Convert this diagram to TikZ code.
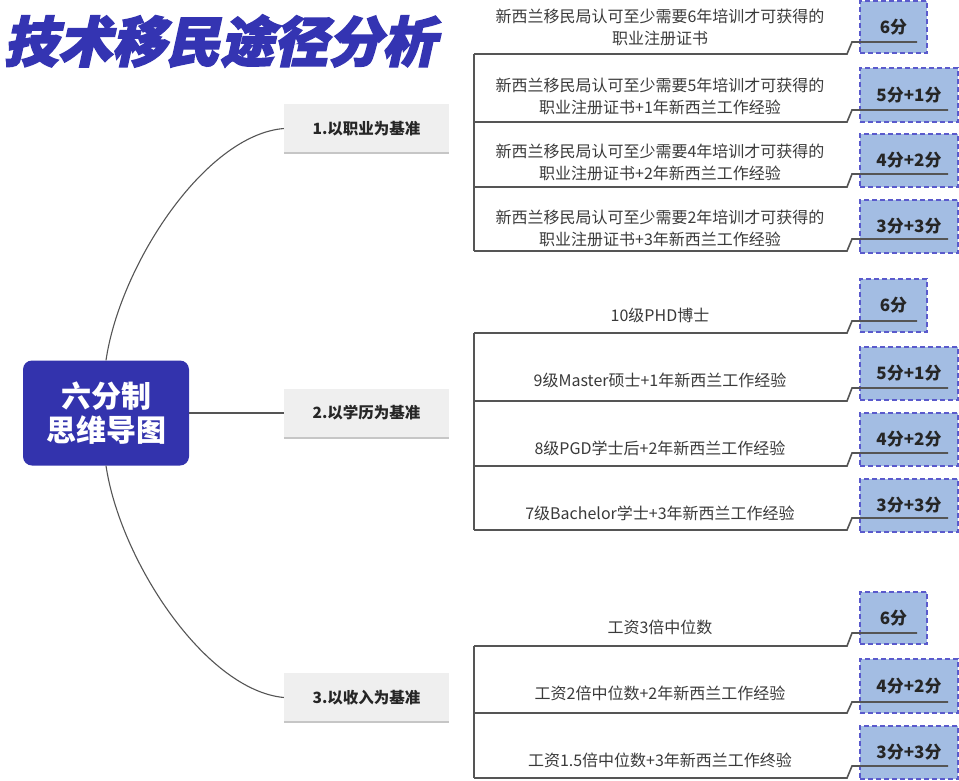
\documentclass[tikz,border=0pt]{standalone}
\usepackage{fontspec}
\setmainfont{Noto Sans CJK SC}
\newfontfamily\titlefont{Noto Sans CJK SC}[BoldFeatures={FakeSlant=0.22,FakeBold=3}]
\definecolor{titleblue}{HTML}{3434B2}
\definecolor{centerblue}{HTML}{3333AD}
\definecolor{scorefill}{HTML}{A3BDE3}
\definecolor{scoredraw}{HTML}{5A5ACC}
\definecolor{branchfill}{HTML}{EFEFEF}
\definecolor{branchshadow}{HTML}{C6C6C6}
\definecolor{linegray}{HTML}{555555}
\definecolor{textgray}{HTML}{3A3A3A}
\tikzset{
  centerbox/.style={draw=none, fill=centerblue, rounded corners=9pt, minimum width=166pt, minimum height=105pt,
    text=white, align=center, font=\fontsize{30}{34}\selectfont\bfseries, inner sep=0pt},
  branchbox/.style={fill=branchfill, draw=none, minimum width=165pt, minimum height=49pt, inner sep=0pt,
    text=black!85, font=\fontsize{15.5}{18}\selectfont\bfseries},
  branchshade/.style={draw=branchshadow, line width=2pt},
  leaftext/.style={text=textgray, align=center, font=\fontsize{16}{22}\selectfont, inner sep=0pt},
  scorebox/.style={draw=scoredraw, dash pattern=on 5pt off 3pt, line width=1.3pt, fill=scorefill,
    inner sep=0pt, text=black!85, font=\fontsize{17}{20}\selectfont\bfseries},
  leafline/.style={draw=linegray, line width=1.6pt},
  curveline/.style={draw=linegray, line width=1.1pt},
  midline/.style={draw=linegray, line width=1.6pt}
}
% #1 name, #2 underline y, #3 line-in-box y, #4 text y, #5 text, #6 box top, #7 box bottom, #8 box right, #9 score
\newcommand\leafrow[9]{%
  \node[leaftext] (#1t) at (660,#4) {#5};
  \node[scorebox, minimum width={(#8-860)*1pt}, minimum height={(#7-#6)*1pt}] (#1s) at ({(860+#8)/2},{(#6+#7)/2}) {#9};
  \coordinate (#1a) at (474,#2);
  \coordinate (#1b) at (847,#2);
  \coordinate (#1c) at (852,#3);
  \coordinate (#1d) at ({#8-10},#3);
  \draw[leafline] (#1a) -- (#1b) -- (#1c) -- (#1d);
}
\begin{document}
\begin{tikzpicture}[x=1pt,y=-1pt]
\useasboundingbox (0,0) rectangle (959,780);
\fill[white] (0,0) rectangle (959,780);

% title
\node[text=titleblue, font=\titlefont\fontsize{54}{60}\selectfont\bfseries, inner sep=0pt] (title) at (220,41) {技术移民途径分析};

% center node
\node[centerbox] (c) at (106,413) {六分制\\思维导图};

% branch nodes
\node[branchbox] (b1) at (366.5,128.5) {1.以职业为基准};
\node[branchbox] (b2) at (366.5,413) {2.以学历为基准};
\node[branchbox] (b3) at (366.5,697.5) {3.以收入为基准};
\draw[branchshade] (b1.south west) -- (b1.south east);
\draw[branchshade] (b2.south west) -- (b2.south east);
\draw[branchshade] (b3.south west) -- (b3.south east);

% connectors
\draw[curveline] (c.north) .. controls (120,265) and (205,135) .. (b1.west);
\draw[midline] (c.east) -- (b2.west);
\draw[curveline] (c.south) .. controls (120,560) and (205,690) .. (b3.west);

% branch 1 leaves
\leafrow{p1}{54}{42}{27}{新西兰移民局认可至少需要6年培训才可获得的\\职业注册证书}{1}{53}{927}{6分}
\leafrow{p2}{122}{110}{96.5}{新西兰移民局认可至少需要5年培训才可获得的\\职业注册证书+1年新西兰工作经验}{68}{122}{958}{5分+1分}
\leafrow{p3}{187}{174}{162}{新西兰移民局认可至少需要4年培训才可获得的\\职业注册证书+2年新西兰工作经验}{134}{187}{958}{4分+2分}
\leafrow{p4}{251}{239}{228}{新西兰移民局认可至少需要2年培训才可获得的\\职业注册证书+3年新西兰工作经验}{200}{253}{958}{3分+3分}
\draw[leafline] (p1a) -- (p4a);

% branch 2 leaves
\leafrow{e1}{333}{321}{315}{10级PHD博士}{279}{332}{927}{6分}
\leafrow{e2}{401}{388}{380}{9级Master硕士+1年新西兰工作经验}{347}{400}{958}{5分+1分}
\leafrow{e3}{466}{453}{448}{8级PGD学士后+2年新西兰工作经验}{413}{466}{958}{4分+2分}
\leafrow{e4}{530}{518}{513}{7级Bachelor学士+3年新西兰工作经验}{479}{532}{958}{3分+3分}
\draw[leafline] (e1a) -- (e4a);

% branch 3 leaves
\leafrow{s1}{646}{633}{627}{工资3倍中位数}{592}{644}{927}{6分}
\leafrow{s2}{713}{702}{693}{工资2倍中位数+2年新西兰工作经验}{659}{713}{958}{4分+2分}
\leafrow{s3}{778}{766}{760}{工资1.5倍中位数+3年新西兰工作终验}{726}{779}{958}{3分+3分}
\draw[leafline] (s1a) -- (s3a);
\end{tikzpicture}
\end{document}
